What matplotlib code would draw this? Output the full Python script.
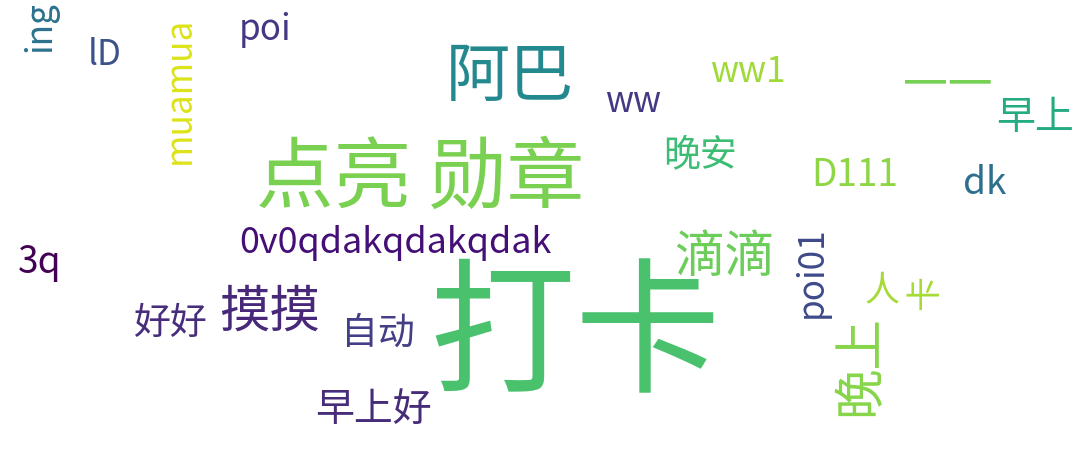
import matplotlib.pyplot as plt

plt.rcParams['font.family'] = ['Noto Sans CJK SC', 'DejaVu Sans']

# words of the cloud and their relative weights (em size in px)
words = ['打卡', '点亮 勋章', '阿巴', '一一', '滴滴', '摸摸', '晚上', '早上', '早上好',
         '晚安', 'D111', 'dk', 'ww1', 'ww', '0v0qdakqdakqdak', '3q', '好好', '自动',
         'poi', 'lD', 'ing', 'muamua', 'poi01', '人', '卡']
weights = [150, 80, 66, 46, 52, 52, 52, 40, 40, 38, 38, 38, 36, 36, 37, 38, 38, 38,
           36, 36, 36, 36, 36, 36, 36]

# layout: centre (px), rotation, colour
layout = [
    (575, 340, 0, '#4ac16d'), (420, 180, 0, '#7ad151'), (510, 78, 0, '#23898e'),
    (948, 85, 0, '#75d054'), (725, 258, 0, '#6ccd5a'), (270, 313, 0, '#482878'),
    (860, 365, 90, '#86d549'), (1035, 118, 0, '#25ab82'), (373, 410, 0, '#472c7a'),
    (700, 155, 0, '#3dbc74'), (855, 175, 0, '#8ed645'), (985, 183, 0, '#2d708e'),
    (748, 72, 0, '#a0da39'), (633, 102, 0, '#443a83'), (395, 243, 0, '#440f76'),
    (40, 262, 0, '#440154'), (170, 323, 0, '#472d7b'), (378, 333, 0, '#433e85'),
    (265, 30, 0, '#453781'), (105, 55, 0, '#3b528b'), (40, 27, 90, '#2c728e'),
    (180, 90, 90, '#dde318'), (812, 272, 90, '#3e4a89'), (882, 290, 0, '#a5db36'),
    (925, 292, 90, '#a5db36'),
]

W, H = 1080, 463
fig = plt.figure(figsize=(W / 100, H / 100), dpi=100)
fig.patch.set_facecolor('white')

for w, s, (x, y, rot, c) in zip(words, weights, layout):
    fig.text(x / W, 1 - y / H, w, fontsize=s * 0.70, color=c, rotation=rot,
             ha='center', va='center', fontweight='light')

fig.savefig('out.png', dpi=100, facecolor='white')
